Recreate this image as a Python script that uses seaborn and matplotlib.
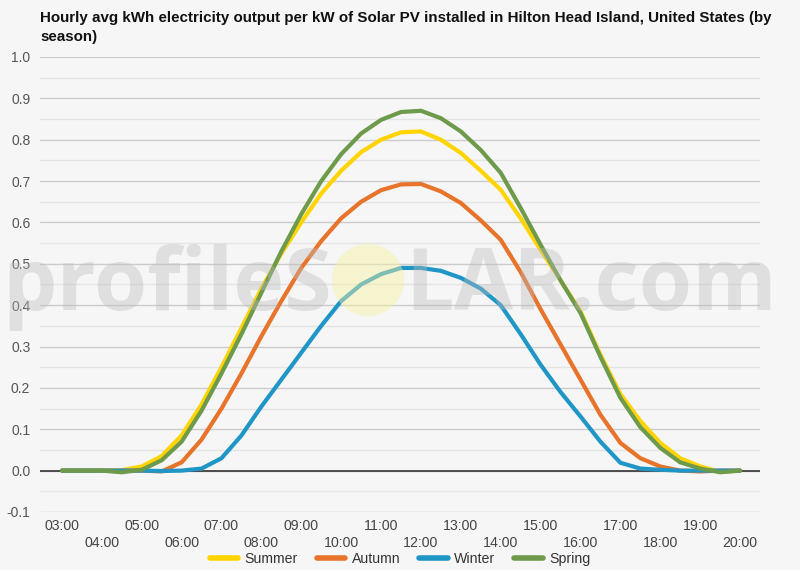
import numpy as np
import pandas as pd
import matplotlib
matplotlib.use("Agg")
import matplotlib.pyplot as plt
from matplotlib.patches import Ellipse
import seaborn as sns

# ---- data (half-hour steps) ----
hours = [3.0, 3.5, 4.0, 4.5, 5.0, 5.5, 6.0, 6.5, 7.0, 7.5, 8.0, 8.5, 9.0, 9.5,
         10.0, 10.5, 11.0, 11.5, 12.0, 12.5, 13.0, 13.5, 14.0, 14.5, 15.0, 15.5,
         16.0, 16.5, 17.0, 17.5, 18.0, 18.5, 19.0, 19.5, 20.0]
summer = [0, 0, 0, 0.001, 0.01, 0.035, 0.085, 0.16, 0.25, 0.345, 0.44, 0.525, 0.60, 0.67,
          0.725, 0.77, 0.80, 0.818, 0.82, 0.80, 0.768, 0.725, 0.679, 0.61, 0.534, 0.46,
          0.385, 0.28, 0.185, 0.12, 0.067, 0.03, 0.01, -0.003, 0]
autumn = [0, 0, 0, 0, 0, -0.002, 0.02, 0.075, 0.15, 0.235, 0.325, 0.41, 0.49, 0.555,
          0.61, 0.65, 0.678, 0.692, 0.693, 0.675, 0.647, 0.605, 0.558, 0.48, 0.39, 0.305,
          0.22, 0.135, 0.067, 0.03, 0.01, 0.0, -0.002, 0, 0]
winter = [0, 0, 0, 0, 0, -0.001, 0.0, 0.005, 0.03, 0.085, 0.155, 0.22, 0.285, 0.35,
          0.41, 0.45, 0.475, 0.49, 0.49, 0.483, 0.466, 0.44, 0.40, 0.33, 0.256, 0.19,
          0.131, 0.07, 0.019, 0.005, 0.002, 0, 0, 0, 0]
spring = [0, 0, 0, -0.004, 0.002, 0.025, 0.07, 0.145, 0.235, 0.33, 0.43, 0.53, 0.62, 0.70,
          0.765, 0.815, 0.848, 0.867, 0.870, 0.852, 0.82, 0.775, 0.72, 0.635, 0.546, 0.46,
          0.381, 0.275, 0.176, 0.105, 0.055, 0.02, 0.005, -0.004, 0]
seasons = ["Summer", "Autumn", "Winter", "Spring"]
colors = ["#ffd400", "#e8732a", "#1f96c6", "#6e9a4c"]
tick_hours = list(range(3, 21))
tick_labels = [f"{h:02d}:00" for h in tick_hours]
title = ("Hourly avg kWh electricity output per kW of Solar PV installed in Hilton Head Island, United States (by\n"
         "season)")

df = pd.concat([
    pd.DataFrame({"hour": hours, "kwh": vals, "season": name})
    for name, vals in zip(seasons, [summer, autumn, winter, spring])
])

sns.set_theme(style="white")
plt.rcParams["font.family"] = ["Liberation Sans", "DejaVu Sans"]

bg = "#f6f6f6"
fig = plt.figure(figsize=(8, 5.7), dpi=100, facecolor=bg)
ax = fig.add_axes([0.05, 0.1018, 0.90, 0.7982])
ax.set_facecolor(bg)

sns.lineplot(data=df, x="hour", y="kwh", hue="season", hue_order=seasons,
             palette=colors, linewidth=3.0, ax=ax, legend=False, zorder=3)
for ln in ax.lines:
    ln.set_solid_joinstyle("round")
    ln.set_solid_capstyle("round")

ax.set_xlim(2.45, 20.5)
ax.set_ylim(-0.1, 1.0)
for s in ax.spines.values():
    s.set_visible(False)

# grid
yt = np.round(np.arange(-0.1, 1.01, 0.1), 2)
ax.set_yticks(yt)
ax.set_yticks(np.round(np.arange(-0.05, 1.0, 0.1), 3), minor=True)
ax.grid(axis="y", which="major", color="#cccccc", linewidth=1.0, zorder=0)
ax.grid(axis="y", which="minor", color="#e4e4e4", linewidth=1.0, zorder=0)
ax.axhline(0, color="#333333", linewidth=1.2, zorder=2)
ax.set_yticklabels([f"{v:.1f}" for v in yt])
ax.tick_params(axis="y", which="both", length=0, pad=7, labelsize=10, labelcolor="#555555")

ax.set_xticks(tick_hours)
ax.set_xticklabels([lab if i % 2 == 0 else "\n" + lab for i, lab in enumerate(tick_labels)],
                   linespacing=1.25)
ax.tick_params(axis="x", length=0, pad=5, labelsize=10.2, labelcolor="#444444")
ax.set_xlabel("")
ax.set_ylabel("")

# watermark
wm = dict(fontsize=62, fontweight="bold", color="#bcbcbc", alpha=0.38, zorder=5,
          family=["Open Sans", "DejaVu Sans"], va="baseline")
fig.text(332 / 800, 1 - 310 / 570, "profileS", ha="right", **wm)
fig.text(405 / 800, 1 - 310 / 570, "LAR.com", ha="left", **wm)
fig.patches.append(Ellipse((368 / 800, 1 - 280 / 570), 72 / 800, 72 / 570,
                           transform=fig.transFigure, facecolor="#f8f0a0",
                           alpha=0.45, edgecolor="none", zorder=5))

fig.text(40 / 800, 1 - 11 / 570, title, ha="left", va="top", fontsize=10.9,
         fontweight="bold", color="#111111", linespacing=1.45)

handles = [plt.Line2D([], [], color=c, linewidth=4) for c in colors]
fig.legend(handles, seasons, loc="center", bbox_to_anchor=(0.5, 1 - 559 / 570), ncol=4,
           frameon=False, fontsize=10.2, handlelength=2.0, handletextpad=0.45,
           columnspacing=1.35, labelcolor="#333333", borderpad=0.1)

fig.savefig("out.png", dpi=100, facecolor=bg)
